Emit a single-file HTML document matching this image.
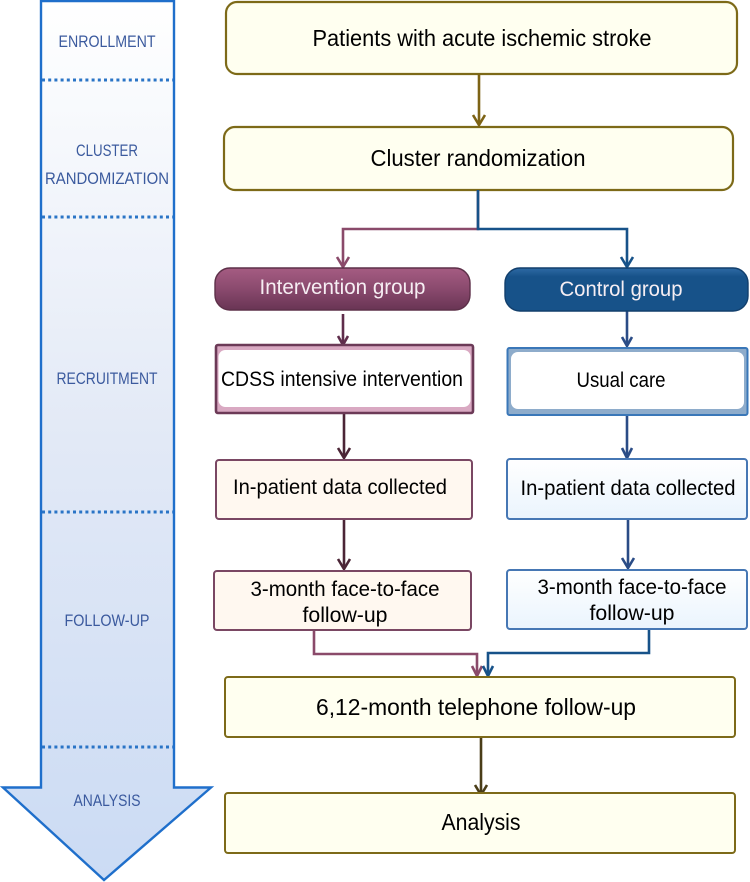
<!DOCTYPE html>
<html><head><meta charset="utf-8"><style>
html,body{margin:0;padding:0;background:#fff}
svg{display:block}
text{font-family:"Liberation Sans",sans-serif;text-anchor:middle}
.m{font-size:23.500px;fill:#000}
.s{font-size:21.500px;fill:#000}
.l{font-size:16.500px;fill:#3b5a9e}
.w{font-size:21.500px;fill:#f6eef3}
</style></head><body>
<svg width="750" height="882" viewBox="0 0 750 882" xmlns="http://www.w3.org/2000/svg">
<defs>
<linearGradient id="ag" x1="0" y1="0" x2="0" y2="1"><stop offset="0" stop-color="#fff"/><stop offset=".5" stop-color="#e2e9f6"/><stop offset="1" stop-color="#cbdbf4"/></linearGradient>
<linearGradient id="pg" x1="0" y1="0" x2="0" y2="1"><stop offset="0" stop-color="#a55c82"/><stop offset=".5" stop-color="#8a4a6e"/><stop offset="1" stop-color="#693554"/></linearGradient>
<linearGradient id="bg" x1="0" y1="0" x2="0" y2="1"><stop offset="0" stop-color="#2e6aa5"/><stop offset=".2" stop-color="#175289"/><stop offset="1" stop-color="#175289"/></linearGradient>
<linearGradient id="lb" x1="0" y1="0" x2="0" y2="1"><stop offset="0" stop-color="#fff"/><stop offset="1" stop-color="#eaf4fd"/></linearGradient>
</defs>

<!-- big arrow -->
<path d="M41 1H174V787.500H211L104 880L3 787.500H41Z" fill="url(#ag)" stroke="#1f6fcb" stroke-width="2.4"/>
<g stroke="#2a74c6" stroke-width="3" stroke-dasharray="3 3.2">
<line x1="42" y1="80" x2="173" y2="80"/>
<line x1="42" y1="217" x2="173" y2="217"/>
<line x1="42" y1="512" x2="173" y2="512"/>
<line x1="42" y1="747" x2="173" y2="747"/>
</g>
<text class="l" x="107" y="47" textLength="97" lengthAdjust="spacingAndGlyphs">ENROLLMENT</text>
<text class="l" x="107" y="156" textLength="62" lengthAdjust="spacingAndGlyphs">CLUSTER</text>
<text class="l" x="107" y="184" textLength="124" lengthAdjust="spacingAndGlyphs">RANDOMIZATION</text>
<text class="l" x="107" y="384" textLength="101" lengthAdjust="spacingAndGlyphs">RECRUITMENT</text>
<text class="l" x="107" y="626" textLength="85" lengthAdjust="spacingAndGlyphs">FOLLOW-UP</text>
<text class="l" x="107" y="806" textLength="67" lengthAdjust="spacingAndGlyphs">ANALYSIS</text>

<!-- top boxes -->
<rect x="226" y="2" width="511" height="72" rx="11" fill="#fffff0" stroke="#7d6a18" stroke-width="2.2"/>
<text class="m" x="482" y="46" textLength="339" lengthAdjust="spacingAndGlyphs">Patients with acute ischemic stroke</text>
<rect x="224" y="127" width="509" height="63" rx="11" fill="#fffff0" stroke="#7d6a18" stroke-width="2.2"/>
<text class="m" x="478" y="166" textLength="215" lengthAdjust="spacingAndGlyphs">Cluster randomization</text>

<!-- connectors -->
<g fill="none" stroke-width="2.6">
<path d="M479 74V124" stroke="#7d6315"/><path d="M473 115L479 125L485 115" stroke="#7d6315"/>
<path d="M478 190V229H343V266" stroke="#8a4a6a"/><path d="M337 257L343 267L349 257" stroke="#8a4a6a"/>
<path d="M478 190V229H627V266" stroke="#175289"/><path d="M621 257L627 267L633 257" stroke="#175289"/>
<path d="M343 314V345" stroke="#5f2d4b"/><path d="M338 336L343 345L348 336" stroke="#5f2d4b"/>
<path d="M627 305V346" stroke="#2a4c86"/><path d="M622 337L627 346L632 337" stroke="#2a4c86"/>
<path d="M344 414V457" stroke="#4b2536"/><path d="M338 448L344 458L350 448" stroke="#4b2536"/>
<path d="M627 416V457" stroke="#2a4c86"/><path d="M622 448L627 458L632 448" stroke="#2a4c86"/>
<path d="M344 520V568" stroke="#4b2536"/><path d="M338 559L344 569L350 559" stroke="#4b2536"/>
<path d="M628 519V567" stroke="#2a4c86"/><path d="M622 558L628 568L634 558" stroke="#2a4c86"/>
<path d="M314 630V654H477V675" stroke="#8a4a6a"/><path d="M472 666L477 676L482 666" stroke="#8a4a6a"/>
<path d="M649 630V653H488V675" stroke="#175289"/><path d="M483 666L488 676L493 666" stroke="#175289"/>
<path d="M481 738V794" stroke="#4a3d18"/><path d="M475 785L481 795L487 785" stroke="#4a3d18"/>
</g>

<!-- intervention group -->
<rect x="215" y="268" width="255" height="42" rx="15" fill="url(#pg)" stroke="#5d3049" stroke-width="1.4"/>
<text class="w" x="342.500" y="294" textLength="166" lengthAdjust="spacingAndGlyphs">Intervention group</text>
<!-- control group -->
<rect x="505" y="268" width="243" height="43" rx="15" fill="url(#bg)" stroke="#123f6c" stroke-width="1.4"/>
<text class="w" x="621" y="296" textLength="123" lengthAdjust="spacingAndGlyphs">Control group</text>

<!-- CDSS -->
<rect x="216" y="345" width="257" height="68" rx="2" fill="#d9a9c2" stroke="#6c3a57" stroke-width="2.6"/>
<rect x="218.500" y="350" width="252" height="57" rx="7" fill="#fff"/>
<text class="s" x="342" y="386" textLength="242" lengthAdjust="spacingAndGlyphs">CDSS intensive intervention</text>
<!-- usual care -->
<rect x="507.500" y="348" width="240" height="67" rx="2" fill="#8eaccb" stroke="#3a77b8" stroke-width="2"/>
<rect x="511" y="352" width="233" height="57" rx="7" fill="#fff"/>
<text class="s" x="621" y="387" textLength="89" lengthAdjust="spacingAndGlyphs">Usual care</text>

<!-- data collected -->
<rect x="216" y="460" width="256" height="59" rx="3" fill="#fff8f0" stroke="#7a4763" stroke-width="2"/>
<text class="s" x="340" y="494" textLength="214" lengthAdjust="spacingAndGlyphs">In-patient data collected</text>
<rect x="507" y="459" width="240" height="60" rx="3" fill="url(#lb)" stroke="#4677b4" stroke-width="2"/>
<text class="s" x="628" y="495" textLength="215" lengthAdjust="spacingAndGlyphs">In-patient data collected</text>

<!-- follow up -->
<rect x="214" y="571" width="257" height="59" rx="3" fill="#fff8f0" stroke="#7a4763" stroke-width="2"/>
<text class="s" x="345" y="596" textLength="189" lengthAdjust="spacingAndGlyphs">3-month face-to-face</text>
<text class="s" x="345" y="622" textLength="85" lengthAdjust="spacingAndGlyphs">follow-up</text>
<rect x="507" y="570" width="240" height="59" rx="3" fill="url(#lb)" stroke="#4677b4" stroke-width="2"/>
<text class="s" x="632" y="594" textLength="189" lengthAdjust="spacingAndGlyphs">3-month face-to-face</text>
<text class="s" x="632" y="620" textLength="85" lengthAdjust="spacingAndGlyphs">follow-up</text>

<!-- bottom -->
<rect x="225" y="677" width="510" height="60" rx="3" fill="#fffff0" stroke="#7d6a18" stroke-width="2"/>
<text class="m" x="476" y="715" textLength="320" lengthAdjust="spacingAndGlyphs">6,12-month telephone follow-up</text>
<rect x="225" y="793" width="510" height="60" rx="3" fill="#fffff0" stroke="#7d6a18" stroke-width="2"/>
<text class="m" x="481" y="830" textLength="79" lengthAdjust="spacingAndGlyphs">Analysis</text>
</svg>
</body></html>
